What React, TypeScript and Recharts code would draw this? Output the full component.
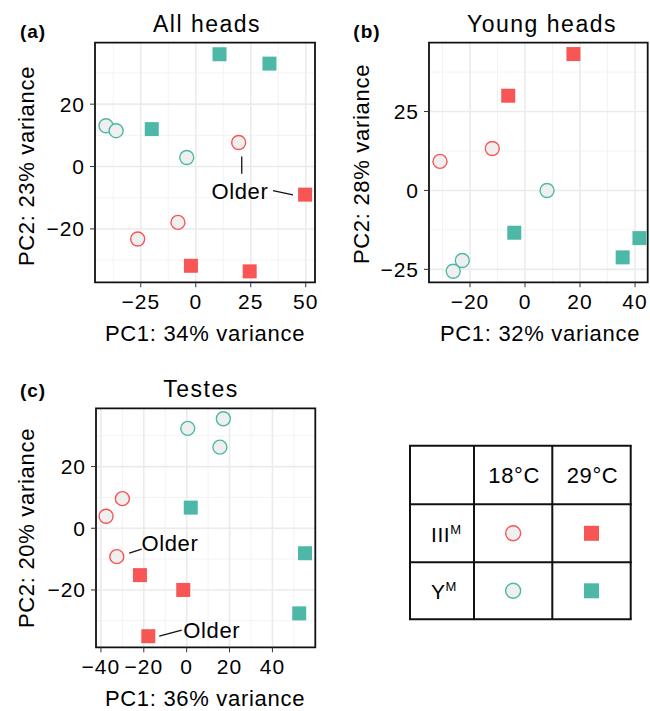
import React from 'react';
import {
  ScatterChart,
  Scatter,
  XAxis,
  YAxis,
  CartesianGrid,
  ReferenceArea,
  ReferenceLine,
  ReferenceDot,
} from 'recharts';

const RED = '#F85555';
const TEAL = '#4DB8A7';
const HOLLOW = '#EFEFEF';
const FONT = '"Liberation Sans", Arial, Helvetica, sans-serif';

// (a) All heads
const A_III_18 = [{ x: 19.5, y: 7.7 }, { x: -8.1, y: -17.9 }, { x: -26.4, y: -23.2 }];
const A_III_29 = [{ x: 49.7, y: -9 }, { x: -2.2, y: -31.8 }, { x: 24.5, y: -33.6 }];
const A_Y_18 = [{ x: -40.8, y: 13.1 }, { x: -36.2, y: 11.5 }, { x: -4.1, y: 2.9 }];
const A_Y_29 = [{ x: -20, y: 12 }, { x: 10.8, y: 36 }, { x: 33.5, y: 33 }];
const A_X_TICKS = [-25, 0, 25, 50];
const A_X_MINOR = [-37.5, -12.5, 12.5, 37.5];
const A_Y_TICKS = [-20, 0, 20];
const A_Y_MINOR = [-30, -10, 10, 30];
const A_NOTES = [{ x: 20.1, y: -7.8, text: 'Older' }];
const A_LINES = [
  [{ x: 20.9, y: 3.2 }, { x: 20.9, y: -2.3 }],
  [{ x: 35.1, y: -7.7 }, { x: 44.2, y: -9.1 }],
];

// (b) Young heads
const B_III_18 = [{ x: -11.9, y: 13.3 }, { x: -30.9, y: 9.2 }];
const B_III_29 = [{ x: 17.6, y: 43.2 }, { x: -6.1, y: 30 }];
const B_Y_18 = [{ x: 8, y: 0 }, { x: -22.8, y: -22.2 }, { x: -26.1, y: -25.6 }];
const B_Y_29 = [{ x: -3.9, y: -13.4 }, { x: 35.5, y: -21.2 }, { x: 41.6, y: -15.1 }];
const B_X_TICKS = [-20, 0, 20, 40];
const B_X_MINOR = [-30, -10, 10, 30];
const B_Y_TICKS = [-25, 0, 25];
const B_Y_MINOR = [-12.5, 12.5, 37.5];

// (c) Testes
const C_III_18 = [{ x: -30, y: 9.6 }, { x: -37.6, y: 3.9 }, { x: -32.6, y: -9.2 }];
const C_III_29 = [{ x: -21.8, y: -15.2 }, { x: -1.6, y: -20 }, { x: -17.9, y: -35 }];
const C_Y_18 = [{ x: 17.1, y: 35.5 }, { x: 0.5, y: 32.4 }, { x: 15.5, y: 26.3 }];
const C_Y_29 = [{ x: 1.9, y: 6.7 }, { x: 55.2, y: -8.1 }, { x: 52.5, y: -27.6 }];
const C_X_TICKS = [-40, -20, 0, 20, 40];
const C_X_MINOR = [-30, -10, 10, 30, 50];
const C_Y_TICKS = [-20, 0, 20];
const C_Y_MINOR = [-30, -10, 10, 30];
const C_NOTES = [
  { x: -7.8, y: -4.7, text: 'Older' },
  { x: 11.7, y: -33, text: 'Older' },
];
const C_LINES = [
  [{ x: -26.8, y: -8.1 }, { x: -21, y: -6.8 }],
  [{ x: -12.8, y: -35 }, { x: -2.3, y: -33 }],
];

// legend table
const TEMPS = ['18°C', '29°C'];
const GENOTYPES = [
  { name: 'III', sup: 'M', color: RED },
  { name: 'Y', sup: 'M', color: TEAL },
];

const fmt = (v: number) => (v < 0 ? `\u2212${Math.abs(v)}` : String(v));

const circleShape = (color: string) => (p: any) => (
  <circle cx={p.cx} cy={p.cy} r={7} fill={HOLLOW} stroke={color} strokeWidth={1.4} />
);
const squareShape = (color: string) => (p: any) => (
  <rect x={p.cx - 7} y={p.cy - 7} width={14} height={14} fill={color} />
);

const tickStyle = { fontSize: 21, fill: '#000', fontFamily: FONT, letterSpacing: 1 };

function Panel(props: any) {
  const { left, top, width, height, margin, xDomain, yDomain, xTicks, yTicks, xMinor, yMinor, sets, notes = [], lines = [] } = props;
  return (
    <div style={{ position: 'absolute', left, top }}>
      <ScatterChart width={width} height={height} margin={margin}>
        <CartesianGrid verticalValues={xMinor} horizontalValues={yMinor} stroke="#F3F3F3" strokeWidth={1} />
        <CartesianGrid verticalValues={xTicks} horizontalValues={yTicks} stroke="#EBEBEB" strokeWidth={1.6} />
        <XAxis
          type="number"
          dataKey="x"
          domain={xDomain}
          ticks={xTicks}
          allowDataOverflow
          axisLine={false}
          tickLine={{ stroke: '#333' }}
          tickSize={5}
          tickMargin={7}
          height={30}
          tick={tickStyle}
          tickFormatter={fmt}
          interval={0}
        />
        <YAxis
          type="number"
          dataKey="y"
          domain={yDomain}
          ticks={yTicks}
          allowDataOverflow
          axisLine={false}
          tickLine={{ stroke: '#333' }}
          tickSize={5}
          tickMargin={5}
          width={60}
          tick={tickStyle}
          tickFormatter={fmt}
          interval={0}
        />
        <ReferenceArea
          x1={xDomain[0]}
          x2={xDomain[1]}
          y1={yDomain[0]}
          y2={yDomain[1]}
          fill="none"
          fillOpacity={0}
          stroke="#111"
          strokeWidth={1.8}
          ifOverflow="visible"
        />
        {lines.map((seg: any, i: number) => (
          <ReferenceLine key={`l${i}`} segment={seg} stroke="#111" strokeWidth={1.3} ifOverflow="visible" />
        ))}
        <Scatter data={sets.iii18} shape={circleShape(RED)} isAnimationActive={false} />
        <Scatter data={sets.iii29} shape={squareShape(RED)} isAnimationActive={false} />
        <Scatter data={sets.y18} shape={circleShape(TEAL)} isAnimationActive={false} />
        <Scatter data={sets.y29} shape={squareShape(TEAL)} isAnimationActive={false} />
        {notes.map((n: any, i: number) => (
          <ReferenceDot
            key={`n${i}`}
            x={n.x}
            y={n.y}
            r={0}
            fill="none"
            stroke="none"
            ifOverflow="visible"
            label={{ value: n.text, position: 'center', fontSize: 22, fill: '#000', fontFamily: FONT, letterSpacing: 0.6 }}
          />
        ))}
      </ScatterChart>
    </div>
  );
}

function Legend() {
  const colX = [0, 64, 142.3, 220.7];
  const rowY = [0, 58.6, 116.6, 173.6];
  return (
    <svg width={226} height={180} style={{ position: 'absolute', left: 408, top: 444 }}>
      <g transform="translate(2,1.7)" fontFamily={FONT}>
        {colX.map((x, i) => (
          <line key={`c${i}`} x1={x} x2={x} y1={0} y2={rowY[3]} stroke="#111" strokeWidth={2} />
        ))}
        {rowY.map((y, i) => (
          <line key={`r${i}`} x1={-1} x2={colX[3] + 1} y1={y} y2={y} stroke="#111" strokeWidth={2} />
        ))}
        {TEMPS.map((t, i) => (
          <text key={t} x={(colX[i + 1] + colX[i + 2]) / 2 + 1} y={37} textAnchor="middle" fontSize={22} letterSpacing={0.6} fill="#000">
            {t}
          </text>
        ))}
        {GENOTYPES.map((g, i) => {
          const cy = (rowY[i + 1] + rowY[i + 2]) / 2;
          return (
            <g key={g.name}>
              <text x={21} y={cy + 8.5} fontSize={21} letterSpacing={0.6} fill="#000">
                {g.name}
                <tspan fontSize={13} dy={-8}>{g.sup}</tspan>
              </text>
              <circle cx={(colX[1] + colX[2]) / 2} cy={cy} r={7.5} fill={HOLLOW} stroke={g.color} strokeWidth={1.4} />
              <rect x={(colX[2] + colX[3]) / 2 - 7.5} y={cy - 7.5} width={15} height={15} fill={g.color} />
            </g>
          );
        })}
      </g>
    </svg>
  );
}

function Labels() {
  const t = { fontFamily: FONT, fill: '#000' };
  return (
    <svg width={650} height={711} style={{ position: 'absolute', left: 0, top: 0, pointerEvents: 'none' }}>
      <g {...t} fontWeight="bold" fontSize={19} letterSpacing={1}>
        <text x={33} y={38} textAnchor="middle">(a)</text>
        <text x={367} y={38} textAnchor="middle">(b)</text>
        <text x={33} y={397} textAnchor="middle">(c)</text>
      </g>
      <g {...t} fontSize={23} letterSpacing={1.5} textAnchor="middle">
        <text x={207} y={31.5}>All heads</text>
        <text x={542} y={31.5}>Young heads</text>
        <text x={201} y={397}>Testes</text>
      </g>
      <g {...t} fontSize={22} letterSpacing={0.7} textAnchor="middle">
        <text x={205} y={340.5}>PC1: 34% variance</text>
        <text x={540} y={340.5}>PC1: 32% variance</text>
        <text x={205} y={706}>PC1: 36% variance</text>
        <text transform="translate(34,166) rotate(-90)">PC2: 23% variance</text>
        <text transform="translate(369,164) rotate(-90)">PC2: 28% variance</text>
        <text transform="translate(34,528) rotate(-90)">PC2: 20% variance</text>
      </g>
    </svg>
  );
}

export default function App() {
  return (
    <div style={{ position: 'absolute', left: 0, top: 0, width: 650, height: 711, background: '#fff', fontFamily: FONT }}>
      <Panel
        left={0}
        top={0}
        width={330}
        height={360}
        margin={{ top: 42.7, right: 15, bottom: 47.7, left: 35 }}
        xDomain={[-45.8, 54.2]}
        yDomain={[-37.1, 39.7]}
        xTicks={A_X_TICKS}
        yTicks={A_Y_TICKS}
        xMinor={A_X_MINOR}
        yMinor={A_Y_MINOR}
        sets={{ iii18: A_III_18, iii29: A_III_29, y18: A_Y_18, y29: A_Y_29 }}
        notes={A_NOTES}
        lines={A_LINES}
      />
      <Panel
        left={330}
        top={0}
        width={320}
        height={360}
        margin={{ top: 42.7, right: 2.3, bottom: 47.7, left: 39 }}
        xDomain={[-34.9, 44.6]}
        yDomain={[-29.1, 46.8]}
        xTicks={B_X_TICKS}
        yTicks={B_Y_TICKS}
        xMinor={B_X_MINOR}
        yMinor={B_Y_MINOR}
        sets={{ iii18: B_III_18, iii29: B_III_29, y18: B_Y_18, y29: B_Y_29 }}
      />
      <Panel
        left={0}
        top={360}
        width={330}
        height={351}
        margin={{ top: 48.3, right: 14.7, bottom: 33.7, left: 36 }}
        xDomain={[-42.3, 60]}
        yDomain={[-38.6, 38.9]}
        xTicks={C_X_TICKS}
        yTicks={C_Y_TICKS}
        xMinor={C_X_MINOR}
        yMinor={C_Y_MINOR}
        sets={{ iii18: C_III_18, iii29: C_III_29, y18: C_Y_18, y29: C_Y_29 }}
        notes={C_NOTES}
        lines={C_LINES}
      />
      <Labels />
      <Legend />
    </div>
  );
}
